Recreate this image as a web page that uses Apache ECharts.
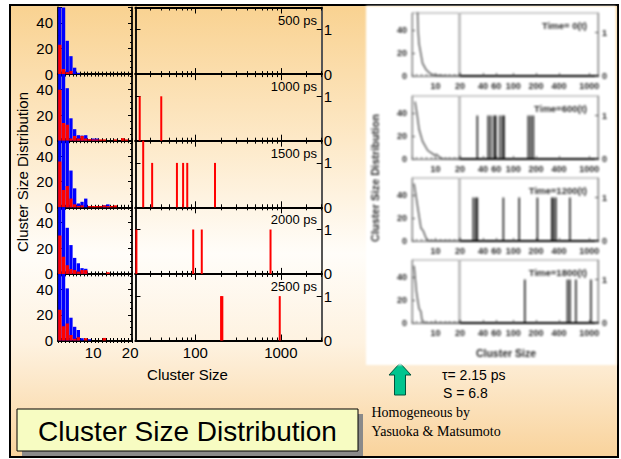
<!DOCTYPE html>
<html>
<head>
<meta charset="utf-8">
<script src="https://cdn.jsdelivr.net/npm/echarts@6/dist/echarts.min.js"></script>
<style>
  html, body { margin: 0; padding: 0; background: #fff; }
  #slide { position: absolute; left: 9px; top: 4px; width: 606px; height: 450px; border: 2px solid #000;
    background: linear-gradient(to bottom, #f9d291 0%, #fde9c8 30%, #fffdf9 55%, #fef2e0 75%, #f9d39c 100%); }
  #main { position: absolute; left: 0; top: 0; width: 621px; height: 459px; }
  #inner { position: absolute; left: 366px; top: 6px; width: 250px; height: 359px; background: #fff; filter: blur(0.8px); }
</style>
</head>
<body>
<div id="slide"></div>
<div id="main"></div>
<div id="inner"></div>
<script>
// small clusters, sizes 1..20
const sizes = ['1', '2', '3', '4', '5', '6', '7', '8', '9', '10', '11', '12', '13', '14', '15', '16', '17', '18', '19', '20']
const times = ['500 ps', '1000 ps', '1500 ps', '2000 ps', '2500 ps']

const blue500 = [60, 60, 26, 14, 5, 1, 0, 0, 0, 0, 0, 0, 0, 0, 0, 0, 0, 0, 0, 0]
const red500 = [23, 4, 1.5, 2.5, 0, 0, 0, 0, 0, 0, 0, 0, 0, 0, 0, 0, 0, 0, 0, 0]
const blue1000 = [60, 60, 41, 17.5, 9, 4.3, 4, 4.3, 0, 1.7, 1.7, 0, 0, 0, 0, 0, 0, 0, 0, 0]
const red1000 = [39.7, 13.8, 12.5, 1.7, 3.7, 1.7, 3.7, 1.7, 1.3, 1, 1, 1, 1, 0, 0, 1, 0, 2, 1, 0]
const blue1500 = [60, 60, 60, 28.7, 14.8, 3, 4.3, 6.8, 0, 0, 0, 0, 1.5, 2.3, 0, 0, 0, 0, 0, 0]
const red1500 = [35.7, 13.6, 16.6, 6.8, 2.3, 1, 1.5, 0, 1, 1, 1, 1, 1.5, 1, 1, 1.5, 0, 0, 0, 0]
const blue2000 = [60, 60, 36, 22.5, 12.5, 8.3, 4.5, 4, 0, 0, 0, 0, 0, 0, 0, 0, 0, 0, 0, 0]
const red2000 = [30, 13.3, 6.8, 3.8, 3, 1.8, 3, 3, 0, 0, 0, 0, 0, 1.3, 0, 0, 0, 0, 0, 0]
const blue2500 = [60, 60, 40.7, 17.8, 10.7, 8.2, 1.8, 0, 1, 0, 0, 0, 0, 0, 0, 0, 0, 0, 0, 0]
const red2500 = [24, 11.2, 13.3, 4.3, 1.3, 2.6, 0, 1.8, 0, 0, 0, 0, 2, 0, 0, 0, 0, 0, 0, 0]

// large clusters (log axis 20..3000)
const big500Sizes = []
const big500Counts = []
const big1000Sizes = [22.4, 40]
const big1000Counts = [1, 1]
const big1500Sizes = [24.6, 31.3, 61, 72, 80.5, 170]
const big1500Counts = [2, 1, 1, 1, 1, 1]
const big2000Sizes = [20.5, 94.5, 119, 757]
const big2000Counts = [1, 1, 1, 1]
const big2500Sizes = [200, 207, 970]
const big2500Counts = [1, 1, 1]

const logMajorTicks = [100, 1000]
const logMinorTicks = [30, 40, 50, 60, 70, 80, 90, 200, 300, 400, 500, 600, 700, 800, 900, 2000, 3000]

// Yasuoka & Matsumoto picture
const ymTimes = ['Time= 0(t)', 'Time=600(t)', 'Time=1200(t)', 'Time=1800(t)']
const ym0Curve = [[2.3, 60], [2.6, 40], [3, 28], [3.8, 19], [4.5, 11], [6, 5.5], [8, 1.8], [10, 0.6], [14, 0.2], [20, 0]]
const ym600Curve = [[1.3, 50], [2.3, 37], [3, 26], [4.5, 15.4], [6.7, 7.4], [9.6, 3.4], [10.5, 4], [11.7, 1.6], [13, 0.3], [20, 0]]
const ym1200Curve = [[0.9, 50], [3, 22], [3.8, 11.4], [4.8, 8.8], [6, 2.4], [7, 0.5], [20, 0]]
const ym1800Curve = [[0.9, 50], [1.9, 27], [3, 12.5], [3.8, 10], [4.2, 3.2], [5.2, 0.3], [20, 0]]
const ym0Sizes = []
const ym600Sizes = [33.8, 47, 50.6, 56, 59, 67, 72.8, 75.7, 158, 170, 184]
const ym1200Sizes = [29.9, 32.2, 33.8, 74.3, 120, 208, 321, 338, 363, 556]
const ym1800Sizes = [142, 516, 556, 666, 1050]
const ymLabels = [20, 40, 60, 100, 200, 400, 1000]

const rows = [
  { blue: blue500, red: red500, bigSizes: big500Sizes, bigCounts: big500Counts },
  { blue: blue1000, red: red1000, bigSizes: big1000Sizes, bigCounts: big1000Counts },
  { blue: blue1500, red: red1500, bigSizes: big1500Sizes, bigCounts: big1500Counts },
  { blue: blue2000, red: red2000, bigSizes: big2000Sizes, bigCounts: big2000Counts },
  { blue: blue2500, red: red2500, bigSizes: big2500Sizes, bigCounts: big2500Counts }
]
const ymRows = [
  { curve: ym0Curve, sizes: ym0Sizes },
  { curve: ym600Curve, sizes: ym600Sizes },
  { curve: ym1200Curve, sizes: ym1200Sizes },
  { curve: ym1800Curve, sizes: ym1800Sizes }
]

const FONT = 'Liberation Sans, Arial, sans-serif'
const ROW_TOP = 7.5
const ROW_H = 66.6

const grids = []
const xAxes = []
const yAxes = []
const series = []
const graphics = []

const blackLine = { show: true, lineStyle: { color: '#000', width: 1.8 } }
const label15 = { fontFamily: FONT, fontSize: 15, color: '#000' }

function logAxis(gridIndex, pos, ticks, len, showLabel) {
  return {
    type: 'log', logBase: 10, min: 20, max: 3000, gridIndex: gridIndex, position: pos,
    axisLine: blackLine,
    axisTick: { show: true, inside: true, length: len, customValues: ticks, lineStyle: { color: '#000' } },
    axisLabel: Object.assign({ show: showLabel, customValues: logMajorTicks, margin: 4, formatter: v => String(v) }, label15),
    splitLine: { show: false },
    minorTick: { show: false }
  }
}

rows.forEach((row, i) => {
  const top = ROW_TOP + i * ROW_H
  const last = i === rows.length - 1

  // left panel: sizes 1..20
  const gl = grids.length
  grids.push({ left: 58, top: top, width: 74, height: ROW_H })
  const xl = xAxes.length
  ;['bottom', 'top'].forEach(pos => {
    xAxes.push({
      type: 'category', data: sizes, gridIndex: gl, position: pos,
      axisLine: blackLine,
      axisTick: { show: true, inside: true, length: 2.5, interval: 0, lineStyle: { color: '#000' } },
      axisLabel: Object.assign({ show: last && pos === 'bottom', interval: (idx, v) => v === '10' || v === '20', margin: 4 }, label15),
      splitLine: { show: false }
    })
  })
  const yl = yAxes.length
  ;['left', 'right'].forEach(pos => {
    yAxes.push({
      type: 'value', gridIndex: gl, position: pos, min: 0, max: 52, interval: 20,
      axisLine: blackLine,
      axisTick: { show: true, inside: true, length: 4, lineStyle: { color: '#000' } },
      minorTick: { show: true, splitNumber: 4, length: 2, lineStyle: { color: '#000' } },
      axisLabel: Object.assign({ show: pos === 'left', showMaxLabel: false, margin: 5 }, label15),
      splitLine: { show: false }
    })
  })
  series.push({
    type: 'bar', xAxisIndex: xl, yAxisIndex: yl, data: row.blue,
    barWidth: '90%', barGap: '-100%', itemStyle: { color: '#0000ff' }
  })
  series.push({
    type: 'bar', xAxisIndex: xl, yAxisIndex: yl, data: row.red,
    barWidth: '90%', barGap: '-100%', itemStyle: { color: '#ff0000' }
  })

  // right panel: sizes 20..3000, log
  const gr = grids.length
  grids.push({ left: 135.5, top: top, width: 186.2, height: ROW_H })
  const xr = xAxes.length
  ;['bottom', 'top'].forEach(pos => {
    xAxes.push(logAxis(gr, pos, logMinorTicks, 3, false))
    xAxes.push(logAxis(gr, pos, logMajorTicks, 6, last && pos === 'bottom'))
  })
  const yr = yAxes.length
  ;['left', 'right'].forEach(pos => {
    yAxes.push({
      type: 'value', gridIndex: gr, position: pos, min: 0, max: 1.5, interval: 1,
      axisLine: pos === 'right' ? { show: true, lineStyle: { color: '#555', width: 2 } } : blackLine,
      axisTick: { show: true, inside: true, length: 5, lineStyle: { color: '#000' } },
      axisLabel: Object.assign({ show: pos === 'right', showMaxLabel: false, margin: 2 }, label15),
      splitLine: { show: false }
    })
  })
  series.push({
    type: 'bar', xAxisIndex: xr, yAxisIndex: yr,
    data: row.bigSizes.map((s, k) => [s, row.bigCounts[k]]),
    barWidth: 2, itemStyle: { color: '#ff0000' }
  })

  graphics.push({
    type: 'text', x: 317, y: top + 12.5,
    style: { text: times[i], font: '13px ' + FONT, fill: '#000', textAlign: 'right', textVerticalAlign: 'middle' }
  })
})

graphics.push(
  { type: 'text', x: 187.5, y: 374, style: { text: 'Cluster Size', font: '15px ' + FONT, fill: '#000', textAlign: 'center', textVerticalAlign: 'middle' } },
  { type: 'text', x: 22, y: 172, rotation: Math.PI / 2, style: { text: 'Cluster Size Distribution', font: '15px ' + FONT, fill: '#000', textAlign: 'center', textVerticalAlign: 'middle' } },
  { type: 'rect', shape: { x: 22, y: 414, width: 341, height: 42 }, style: { fill: '#8a8a8a' } },
  { type: 'rect', shape: { x: 17, y: 409, width: 341, height: 42 }, style: { fill: '#f7fcc2', stroke: '#000', lineWidth: 1 } },
  { type: 'text', x: 187.5, y: 431, style: { text: 'Cluster Size Distribution', font: '28px ' + FONT, fill: '#000', textAlign: 'center', textVerticalAlign: 'middle' } },
  {
    type: 'polygon',
    shape: { points: [[400, 363], [411, 375], [405.5, 375], [405.5, 395], [394.5, 395], [394.5, 375], [389, 375]] },
    style: { fill: '#00c48e', stroke: '#00533c', lineWidth: 1 }
  },
  { type: 'text', x: 442, y: 375, style: { text: 'τ= 2.15 ps', font: '14px ' + FONT, fill: '#000', textVerticalAlign: 'middle' } },
  { type: 'text', x: 443, y: 393, style: { text: 'S = 6.8', font: '14px ' + FONT, fill: '#000', textVerticalAlign: 'middle' } },
  { type: 'text', x: 371.5, y: 412, style: { text: 'Homogeneous by', font: '14px Liberation Serif, Times New Roman, serif', fill: '#000', textVerticalAlign: 'middle' } },
  { type: 'text', x: 371.5, y: 431, style: { text: 'Yasuoka & Matsumoto', font: '14px Liberation Serif, Times New Roman, serif', fill: '#000', textVerticalAlign: 'middle' } }
)

const chart = echarts.init(document.getElementById('main'), null, { renderer: 'svg' })
chart.setOption({
  animation: false,
  grid: grids,
  xAxis: xAxes,
  yAxis: yAxes,
  series: series,
  graphic: graphics
})

// the grey reproduced figure on the right
const IN_TOP = [7, 90, 172, 254]
const IN_H = 63
const grey = '#2a2a2a'
const label9 = { fontFamily: FONT, fontSize: 9, fontWeight: 'bold', color: grey }
const greyLine = { show: true, lineStyle: { color: '#777', width: 1 } }
const ig = [], ix = [], iy = [], is = [], igr = []

ymRows.forEach((row, i) => {
  const top = IN_TOP[i]
  const a = ig.length
  ig.push({ left: 46, top: top, width: 47, height: IN_H, show: true, borderColor: '#999', borderWidth: 1 })
  ix.push({
    type: 'value', gridIndex: a, min: 0, max: 20, interval: 10,
    axisLine: greyLine,
    axisTick: { show: true, inside: true, length: 3, lineStyle: { color: '#555' } },
    minorTick: { show: true, splitNumber: 5, length: 2, lineStyle: { color: '#777' } },
    axisLabel: Object.assign({ margin: 5, formatter: v => (v === 10 ? '10' : '') }, label9),
    splitLine: { show: false }
  })
  iy.push({
    type: 'value', gridIndex: a, min: 0, max: 55, interval: 20,
    axisLine: greyLine,
    axisTick: { show: true, inside: true, length: 3, lineStyle: { color: '#555' } },
    axisLabel: Object.assign({ margin: 5, showMaxLabel: false }, label9),
    splitLine: { show: false }
  })
  is.push({
    type: 'line', xAxisIndex: ix.length - 1, yAxisIndex: iy.length - 1, data: row.curve,
    showSymbol: false, lineStyle: { color: '#555', width: 1.4 }
  })

  const b = ig.length
  ig.push({ left: 94, top: top, width: 138, height: IN_H, show: true, borderColor: '#999', borderWidth: 1 })
  ix.push({
    type: 'log', logBase: 10, min: 20, max: 1300, gridIndex: b,
    axisLine: { show: true, lineStyle: { color: '#000', width: 2.2 } },
    axisTick: { show: true, inside: true, length: 3, customValues: ymLabels, lineStyle: { color: '#555' } },
    axisLabel: Object.assign({ margin: 5, customValues: ymLabels, formatter: v => String(v) }, label9),
    splitLine: { show: false },
    minorTick: { show: false }
  })
  iy.push({
    type: 'value', gridIndex: b, position: 'right', min: 0, max: 1.45, interval: 1,
    axisLine: greyLine,
    axisTick: { show: true, inside: true, length: 3, lineStyle: { color: '#555' } },
    axisLabel: Object.assign({ margin: 4, showMaxLabel: false }, label9),
    splitLine: { show: false }
  })
  is.push({
    type: 'bar', xAxisIndex: ix.length - 1, yAxisIndex: iy.length - 1,
    data: row.sizes.map(s => [s, 1]), barWidth: 1.5, itemStyle: { color: '#111' }
  })
  igr.push({
    type: 'text', x: 221, y: top + 12,
    style: { text: ymTimes[i], font: 'bold 9.5px ' + FONT, fill: grey, textAlign: 'right', textVerticalAlign: 'middle' }
  })
})

igr.push(
  { type: 'text', x: 9, y: 172, rotation: Math.PI / 2, style: { text: 'Cluster Size Distribution', font: 'bold 11px ' + FONT, fill: grey, textAlign: 'center', textVerticalAlign: 'middle' } },
  { type: 'text', x: 140, y: 347, style: { text: 'Cluster Size', font: 'bold 10.5px ' + FONT, fill: grey, textAlign: 'center', textVerticalAlign: 'middle' } }
)

const innerChart = echarts.init(document.getElementById('inner'), null, { renderer: 'svg' })
innerChart.setOption({
  animation: false,
  grid: ig,
  xAxis: ix,
  yAxis: iy,
  series: is,
  graphic: igr
})
</script>
</body>
</html>
